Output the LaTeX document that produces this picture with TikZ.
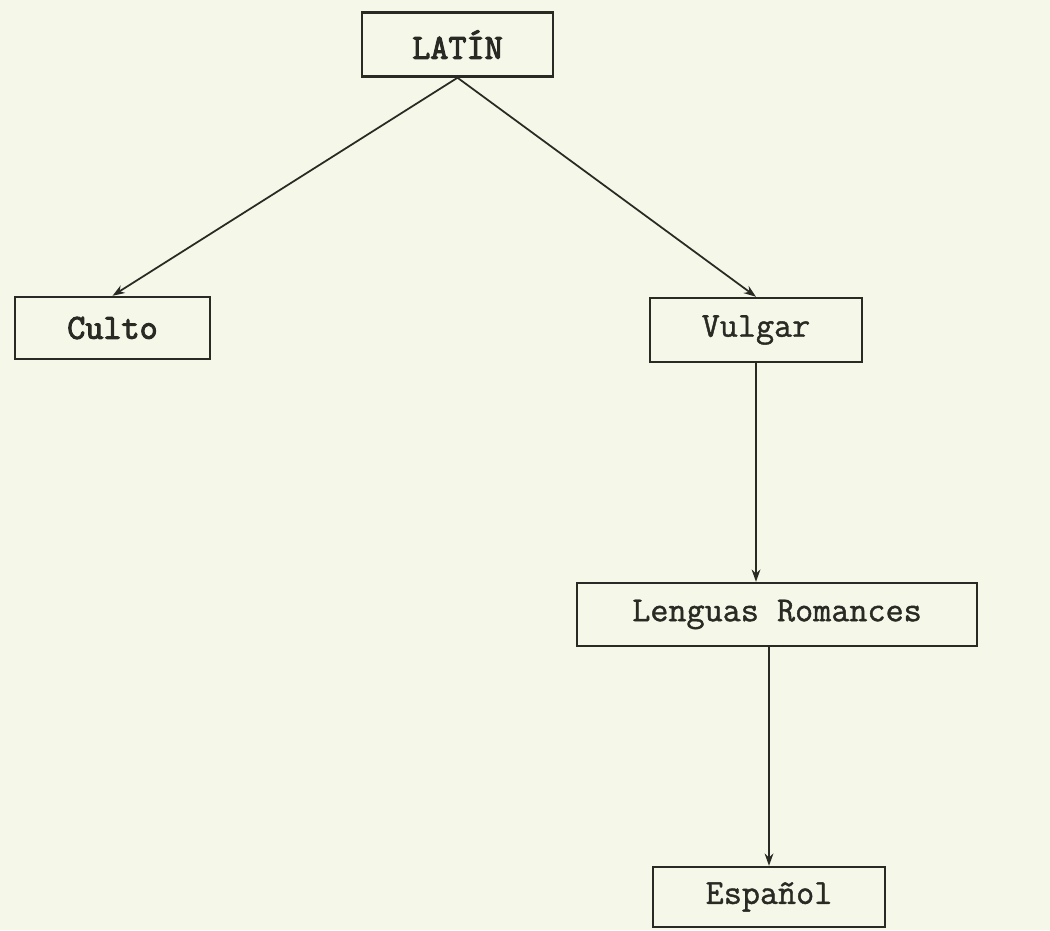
\documentclass[tikz,border=0pt]{standalone}
\usepackage{fontspec}
\newfontfamily\twreg{Latin Modern Mono}[FakeBold=1.2]
\newfontfamily\twbold{Latin Modern Mono}[FakeBold=3]
\usetikzlibrary{arrows.meta}
\definecolor{paper}{HTML}{F5F7E9}
\definecolor{ink}{HTML}{2A2A24}
\begin{document}
\begin{tikzpicture}[x=0.02cm,y=-0.02cm,
  box/.style={draw=ink,line width=1.4pt,minimum width=#1*0.02cm,inner sep=0pt,
    font=\twreg\fontsize{20}{24}\selectfont,text=ink},
  boldbox/.style={box=#1,font=\twbold\fontsize{20}{24}\selectfont},
  conn/.style={draw=ink,line width=1pt,-{Stealth[length=7pt,width=5pt]}}]
\fill[paper] (0,0) rectangle (1050,930);
\useasboundingbox (0,0) rectangle (1050,930);
\node[boldbox=191,minimum height=64*0.02cm] (lat) at (457.5,44.5) {LATÍN};
\node[boldbox=195,minimum height=62*0.02cm] (cul) at (112.5,328) {Culto};
\node[box=212,minimum height=64*0.02cm] (vul) at (756,330) {Vulgar};
\node[box=400,minimum height=63*0.02cm] (len) at (777,614.5) {Lenguas Romances};
\node[box=232,minimum height=60*0.02cm] (esp) at (769,897) {Español};
\draw[conn] (lat.south) -- (cul.north);
\draw[conn] (lat.south) -- (vul.north);
\draw[conn] (vul.south) -- (vul.south |- len.north);
\draw[conn] (esp.north |- len.south) -- (esp.north);
\end{tikzpicture}
\end{document}
